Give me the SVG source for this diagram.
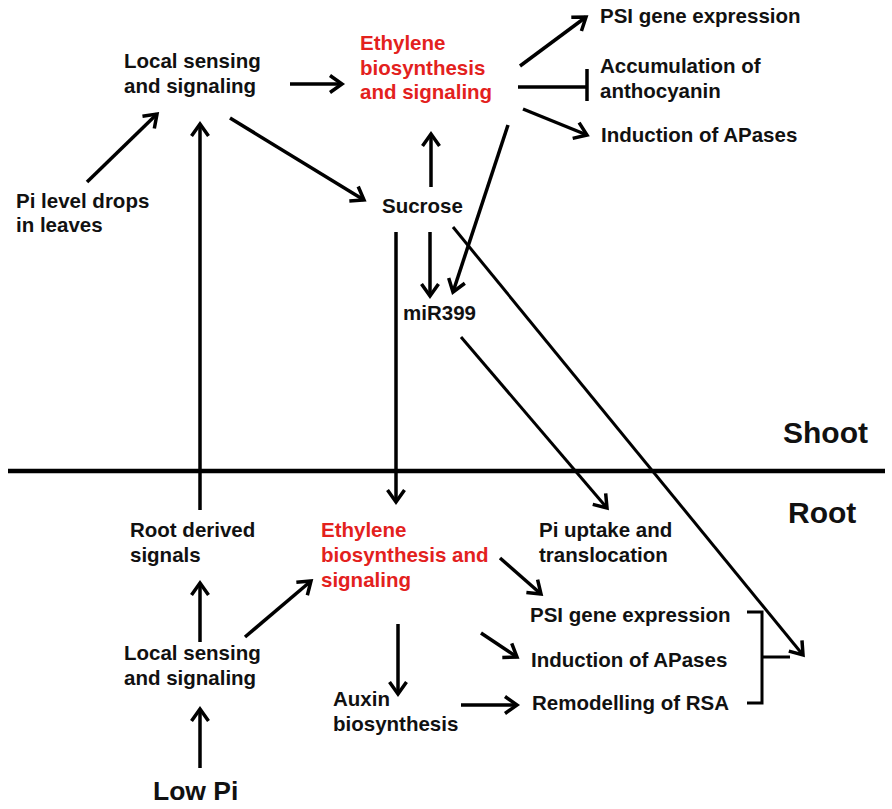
<svg xmlns="http://www.w3.org/2000/svg" width="892" height="809" viewBox="0 0 892 809">
<style>
text{font-family:"Liberation Sans",Arial,sans-serif;font-weight:bold;font-size:20.5px;fill:#111}
.red{fill:#e3211d}
.big{font-size:30px}
.low{font-size:26.5px}
.c line,.c path{stroke:#000;stroke-width:3.5;fill:none}
.c .thin{stroke-width:3}
</style>
<defs>
<marker id="ah" viewBox="-16 -12 20 24" markerWidth="20" markerHeight="24" refX="0" refY="0" orient="auto" markerUnits="userSpaceOnUse">
<path d="M-12,-8.5 L0,0 L-12,8.5" fill="none" stroke="#000" stroke-width="3.5"/>
</marker>
</defs>
<rect width="892" height="809" fill="#fff"/>
<g id="shoot-local"><text x="124" y="68">Local sensing</text><text x="124" y="93">and signaling</text></g>
<g id="shoot-ethylene"><text class="red" x="360" y="50">Ethylene</text><text class="red" x="360" y="75">biosynthesis</text><text class="red" x="360" y="99">and signaling</text></g>
<g id="pi-level"><text x="16" y="208">Pi level drops</text><text x="16" y="232">in leaves</text></g>
<g id="sucrose"><text x="382" y="213">Sucrose</text></g>
<g id="mir399"><text x="403" y="320">miR399</text></g>
<g id="shoot-psi"><text x="600" y="23">PSI gene expression</text></g>
<g id="anthocyanin"><text x="600" y="73">Accumulation of</text><text x="600" y="98">anthocyanin</text></g>
<g id="shoot-apases"><text x="601" y="142">Induction of APases</text></g>
<g id="shoot-label"><text class="big" x="783" y="443">Shoot</text></g>
<g id="root-label"><text class="big" x="788" y="523">Root</text></g>
<g id="root-derived"><text x="130" y="537">Root derived</text><text x="130" y="562">signals</text></g>
<g id="root-ethylene"><text class="red" x="321" y="537">Ethylene</text><text class="red" x="321" y="562">biosynthesis and</text><text class="red" x="321" y="587">signaling</text></g>
<g id="pi-uptake"><text x="539" y="537">Pi uptake and</text><text x="539" y="562">translocation</text></g>
<g id="root-local"><text x="124" y="660">Local sensing</text><text x="124" y="685">and signaling</text></g>
<g id="root-psi"><text x="530" y="622">PSI gene expression</text></g>
<g id="root-apases"><text x="531" y="667">Induction of APases</text></g>
<g id="rsa"><text x="532" y="710">Remodelling of RSA</text></g>
<g id="auxin"><text x="333" y="706">Auxin</text><text x="333" y="731">biosynthesis</text></g>
<g id="low-pi"><text class="low" x="153" y="800">Low Pi</text></g>
<g id="connectors" class="c">
<line x1="8" y1="471" x2="885" y2="471" style="stroke-width:4.5"/>
<line x1="290" y1="84" x2="342" y2="84" marker-end="url(#ah)"/>
<line x1="87" y1="182" x2="157" y2="114" marker-end="url(#ah)"/>
<line x1="200" y1="510" x2="200" y2="124" marker-end="url(#ah)"/>
<line x1="230" y1="118" x2="364" y2="200" marker-end="url(#ah)"/>
<line x1="431" y1="187" x2="431" y2="134" marker-end="url(#ah)"/>
<line x1="430" y1="232" x2="430" y2="296" marker-end="url(#ah)"/>
<line x1="396" y1="232" x2="396" y2="502" marker-end="url(#ah)"/>
<line x1="508" y1="125" x2="453" y2="292" marker-end="url(#ah)"/>
<line class="thin" x1="453" y1="227" x2="803" y2="655" marker-end="url(#ah)"/>
<line class="thin" x1="461" y1="337" x2="607" y2="508" marker-end="url(#ah)"/>
<line x1="520" y1="66" x2="586" y2="17" marker-end="url(#ah)"/>
<line x1="518" y1="87" x2="587" y2="87"/>
<line x1="587" y1="69" x2="587" y2="101"/>
<line x1="523" y1="109" x2="587" y2="135" marker-end="url(#ah)"/>
<line x1="200" y1="642" x2="200" y2="583" marker-end="url(#ah)"/>
<line x1="200" y1="768" x2="200" y2="709" marker-end="url(#ah)"/>
<line x1="245" y1="637" x2="311" y2="581" marker-end="url(#ah)"/>
<line x1="398" y1="624" x2="398" y2="694" marker-end="url(#ah)"/>
<line x1="461" y1="705" x2="517" y2="705" marker-end="url(#ah)"/>
<line x1="481" y1="633" x2="517" y2="657" marker-end="url(#ah)"/>
<line x1="500" y1="558" x2="541" y2="594" marker-end="url(#ah)"/>
<path class="thin" d="M747,612 H762 V703 H747 M762,657 H790"/>
</g>
</svg>
